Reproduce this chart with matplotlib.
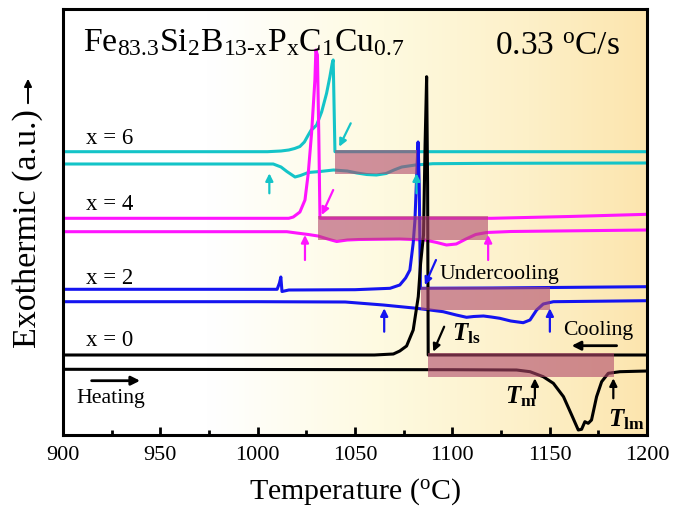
import numpy as np
import matplotlib
matplotlib.use("Agg")
import matplotlib.pyplot as plt
from matplotlib.colors import LinearSegmentedColormap
from matplotlib.patches import Rectangle, FancyArrowPatch

plt.rcParams["font.family"] = ["Liberation Serif", "DejaVu Serif"]
plt.rcParams["mathtext.fontset"] = "custom"
plt.rcParams["mathtext.rm"] = "Liberation Serif"
plt.rcParams["mathtext.it"] = "Liberation Serif:italic"
plt.rcParams["mathtext.bf"] = "Liberation Serif:bold"
plt.rcParams["mathtext.bfit"] = "Liberation Serif:italic:bold"

# ---- DSC traces (temperature in °C, signal in arbitrary offset units) ----
# x = 6
t_x6_cool = [900, 1005, 1012, 1016, 1019, 1021.7, 1024, 1026, 1027.5, 1028.6, 1030.3,
             1032.9, 1035.4, 1037.1, 1038.3, 1038.8, 1039.7, 1200]
s_x6_cool = [283.3, 283.3, 284, 285, 286.5, 288.5, 293, 300, 305, 306.7, 310,
             323.3, 341.7, 358.3, 371.7, 375, 283.3, 283.3]
t_x6_heat = [900, 1008, 1012, 1015, 1019.2, 1022, 1026, 1032, 1039, 1046, 1051, 1056,
             1061, 1066, 1070, 1074, 1081, 1090, 1120, 1200]
s_x6_heat = [271, 271, 268, 263.5, 258, 259.5, 262.5, 263.5, 265, 264, 262, 260.5,
             260, 261.5, 265, 268, 270, 271.3, 271.7, 272]

# x = 4
t_x4_cool = [900, 1016, 1018.3, 1021.7, 1024.3, 1026, 1027.7, 1028.6, 1029.4, 1029.9,
             1030.7, 1031.4, 1032, 1120, 1160, 1200]
s_x4_cool = [216.7, 216.7, 218, 223, 235, 262, 302, 330, 355, 385,
             380, 300, 216.7, 216.7, 218.5, 220.7]
t_x4_heat = [900, 1015, 1020, 1026, 1031, 1036, 1040.6, 1046, 1052, 1073, 1086, 1092,
             1097, 1102, 1107, 1112, 1117.6, 1130, 1200]
s_x4_heat = [203.3, 203.3, 202, 200.5, 199, 196, 193.5, 195, 195.5, 196, 195, 192.5,
             190, 191, 196, 200.5, 202.5, 203.5, 205]

# x = 2
t_x2_cool = [900, 1010, 1011.2, 1011.9, 1012.5, 1016, 1050, 1068, 1073, 1076, 1078.2,
             1079.9, 1080.8, 1081.6, 1082.4, 1083.0, 1083.6, 1120, 1200]
s_x2_cool = [145.7, 145.7, 152, 158, 143.5, 145, 145.3, 146.7, 150, 157, 165,
             192, 215, 255, 293, 250, 146.7, 147, 148.3]
t_x2_heat = [900, 1000, 1045, 1064.5, 1081.7, 1095.3, 1102, 1107.3, 1111, 1116, 1120,
             1124.4, 1130, 1136.4, 1139.9, 1143.3, 1146.7, 1151.9, 1200]
s_x2_heat = [133.3, 133.3, 133, 130, 126.7, 123.3, 120, 117.7, 118.5, 119, 118,
             116.7, 114, 112.3, 115, 125, 131, 133.3, 134.3]

# x = 0
t_x0_cool = [900, 1060, 1069.7, 1073, 1076.5, 1079.9, 1082.5, 1083.7, 1085.2, 1086.0,
             1086.8, 1087.3, 1087.6, 1200]
s_x0_cool = [80, 80, 81, 84, 89, 105, 138.3, 171.7, 200, 290,
             358.3, 250, 80, 80]
t_x0_heat = [900, 1100, 1133, 1139.9, 1146.7, 1151.9, 1157.1, 1161.3, 1164.7, 1166.4,
             1168.1, 1169.8, 1171.5, 1174.1, 1176.7, 1180.1, 1186.1, 1200]
s_x0_heat = [65.7, 65.3, 65, 63.3, 58.3, 51.7, 38.3, 20, 5, 5.7,
             13.3, 11.7, 15, 38.3, 53.3, 61.7, 63.3, 64]

# undercooling windows: (nucleation T, liquidus T)
uc_x6 = (1039.7, 1081.6)
uc_x4 = (1031.1, 1118.4)
uc_x2 = (1083.8, 1150.3)
uc_x0 = (1087.6, 1183.0)

# heating onsets marked with up arrows: (melting onset, liquidus)
on_x6 = (1006.0, 1081.6)
on_x4 = (1024.3, 1118.4)
on_x2 = (1065.0, 1150.1)
on_x0 = (1142.4, 1182.7)

labels = ["x = 6", "x = 4", "x = 2", "x = 0"]
colors = ["#14c4c8", "#ff14ff", "#1414f0", "#000000"]

fig = plt.figure(figsize=(6.86, 5.07), dpi=100)
ax = fig.add_axes([63 / 686, 1 - 435 / 507, (647 - 63) / 686, (435 - 9) / 507])
ax.set_xlim(900, 1200)
ax.set_ylim(0, 426)

# warm background shading
cmap = LinearSegmentedColormap.from_list(
    "warm", [(0.0, "#ffffff"), (0.25, "#ffffff"), (0.55, "#fefae0"),
             (0.8, "#fdf0c8"), (1.0, "#fce5ae")])
grad = np.linspace(0, 1, 400).reshape(1, -1)
ax.imshow(grad, extent=[900, 1200, 0, 426], aspect="auto", cmap=cmap,
          zorder=0, interpolation="bicubic")

traces = [
    (t_x6_cool, s_x6_cool, t_x6_heat, s_x6_heat),
    (t_x4_cool, s_x4_cool, t_x4_heat, s_x4_heat),
    (t_x2_cool, s_x2_cool, t_x2_heat, s_x2_heat),
    (t_x0_cool, s_x0_cool, t_x0_heat, s_x0_heat),
]
for (tc, sc, th, sh), c in zip(traces, colors):
    ax.plot(tc, sc, color=c, lw=2.2, zorder=2, solid_joinstyle="round")
    ax.plot(th, sh, color=c, lw=2.2, zorder=2, solid_joinstyle="round")

# undercooling boxes
rect_color = "#b0486a"
for (t0, t1), (lo, hi) in zip([uc_x6, uc_x4, uc_x2, uc_x0],
                              [(261, 285), (195, 219.3), (125, 148.3), (58.3, 81.7)]):
    ax.add_patch(Rectangle((t0, lo), t1 - t0, hi - lo, facecolor=rect_color,
                           edgecolor="none", alpha=0.6, zorder=3))


def arrow(x0, y0, x1, y1, c, ms=11, lw=1.6):
    ax.annotate("", xy=(x1, y1), xytext=(x0, y0),
                arrowprops=dict(arrowstyle="-|>", color=c, lw=lw,
                                mutation_scale=ms, shrinkA=0, shrinkB=0),
                zorder=4)


# nucleation arrows (down-left onto cooling traces)
arrow(1047.8, 311.7, 1041.9, 288.3, colors[0])
arrow(1038.8, 245.0, 1032.9, 220.0, colors[1])
arrow(1091.6, 175.0, 1085.9, 150.0, colors[2])
arrow(1095.8, 108.3, 1090.2, 83.3, colors[3])

# onset arrows below heating traces
for (a, b), (y0, y1), c in zip([on_x6, on_x4, on_x2, on_x0],
                               [(241.7, 261.7), (175, 200), (103.3, 126.7), (36.7, 56.7)],
                               colors):
    arrow(a, y0, a, y1, c)
    arrow(b, y0, b, y1, c)

# direction arrows
arrow(1184.4, 89.3, 1161.3, 89.3, "black", ms=13, lw=2.0)
arrow(914.7, 54.3, 939.6, 54.3, "black", ms=13, lw=2.0)

fs = 15.7
ax.text(1175, 105, "Cooling", fontsize=fs, ha="center", va="center", zorder=5)
ax.text(907, 36.7, "Heating", fontsize=fs, ha="left", va="center", zorder=5)
ax.text(1093.3, 161, "Undercooling", fontsize=fs, ha="left", va="center", zorder=5)

for lab, yv in zip(labels, [296.7, 230, 156.7, 95]):
    ax.text(911.8, yv, lab, fontsize=16.5, ha="left", va="center", zorder=5)

ax.text(1099.6, 95, r"$\mathbfit{T}_{\mathbf{ls}}$", fontsize=18, ha="left",
        va="baseline", zorder=5)
ax.text(1127, 31.7, r"$\mathbfit{T}_{\mathbf{m}}$", fontsize=18, ha="left",
        va="baseline", zorder=5)
ax.text(1180, 8.3, r"$\mathbfit{T}_{\mathbf{lm}}$", fontsize=18, ha="left",
        va="baseline", zorder=5)

ax.text(910.3, 384.3,
        r"Fe$_{83.3}$Si$_{2}$B$_{\text{13-x}}$P$_{\mathrm{x}}$C$_{1}$Cu$_{0.7}$",
        fontsize=24.3, ha="left", va="baseline", zorder=5)
ax.text(1121.7, 380, r"0.33 $^{\mathrm{o}}$C/s", fontsize=24, ha="left",
        va="baseline", zorder=5)

# axes styling
for sp in ax.spines.values():
    sp.set_linewidth(2.2)
    sp.set_zorder(6)
ax.set_xticks(np.arange(900, 1201, 50))
ax.set_xticks(np.arange(900, 1201, 25), minor=True)
ax.tick_params(axis="x", which="major", direction="in", length=6, width=2,
               labelsize=16, pad=8)
ax.tick_params(axis="x", which="minor", direction="in", length=3.5, width=2)
ax.set_yticks([])
ax.set_xlabel(r"Temperature ($^{\mathrm{o}}$C)", fontsize=21.5, labelpad=8)

fig.text(28 / 686, 1 - 229 / 507, "Exothermic (a.u.)", fontsize=24.5,
         rotation=90, ha="center", va="center")
fig.add_artist(FancyArrowPatch(
    (28 / 686, 1 - 106 / 507), (28 / 686, 1 - 76 / 507),
    transform=fig.transFigure, arrowstyle="-|>", mutation_scale=11,
    color="black", lw=1.4))

fig.savefig("out.png", dpi=100)
